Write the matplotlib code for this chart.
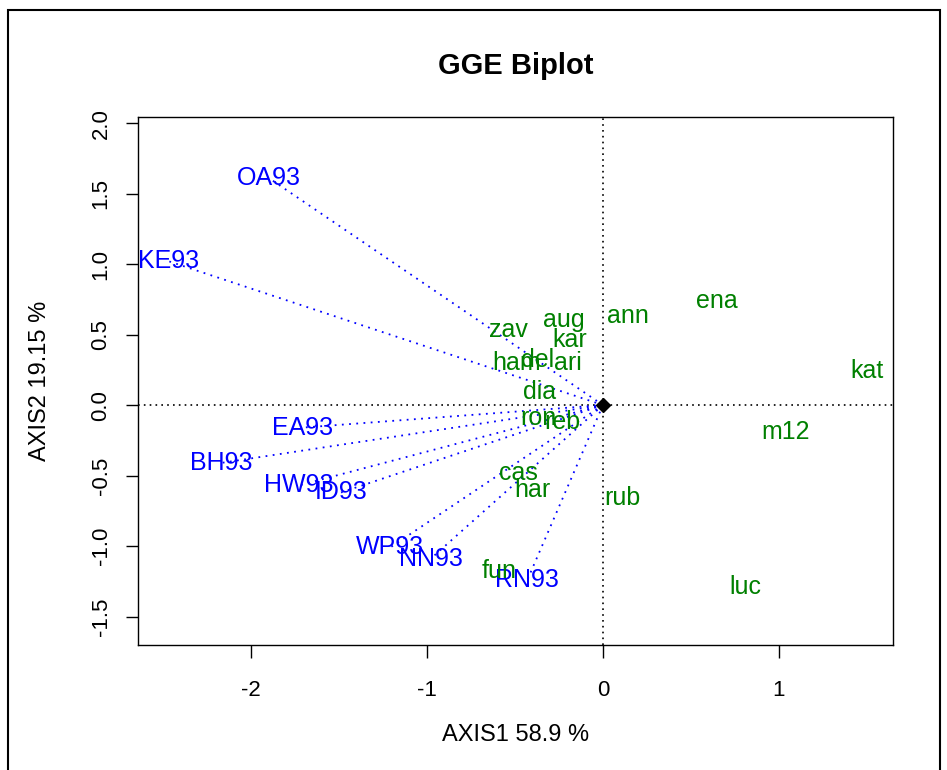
import matplotlib
matplotlib.use("Agg")
import matplotlib.pyplot as plt
from matplotlib.patches import Rectangle

plt.rcParams['font.family'] = ['Liberation Sans', 'DejaVu Sans']

# environments (blue vectors)
env_names = ["OA93", "KE93", "EA93", "BH93", "HW93", "ID93", "WP93", "NN93", "RN93"]
env_x = [-1.90, -2.47, -1.71, -2.17, -1.73, -1.49, -1.21, -0.98, -0.43]
env_y = [1.61, 1.02, -0.16, -0.41, -0.57, -0.62, -1.01, -1.09, -1.24]

# genotypes (green labels)
gen_names = ["ann", "ena", "aug", "zav", "kar", "ham", "del", "ari", "dia",
             "kat", "ron", "reb", "m12", "cas", "har", "rub", "fun", "luc"]
gen_x = [0.14, 0.65, -0.22, -0.54, -0.19, -0.49, -0.37, -0.20, -0.36,
         1.50, -0.37, -0.23, 1.04, -0.48, -0.40, 0.11, -0.59, 0.81]
gen_y = [0.63, 0.74, 0.60, 0.53, 0.46, 0.30, 0.32, 0.30, 0.09,
         0.24, -0.09, -0.12, -0.19, -0.48, -0.60, -0.66, -1.18, -1.29]

fig = plt.figure(figsize=(9.47, 7.7), dpi=100)
ax = fig.add_axes([0.1457, 0.1623, 0.7973, 0.6857])

# outer frame
fig.patches.append(Rectangle((8 / 947, -0.05), 932 / 947, 1.05 - 10 / 770,
                             transform=fig.transFigure, fill=False,
                             edgecolor="black", linewidth=1.5))

ax.axhline(0, color="black", linestyle=(0, (1, 2.5)), linewidth=1.2)
ax.axvline(0, color="black", linestyle=(0, (1, 2.5)), linewidth=1.2)

for x, y in zip(env_x, env_y):
    ax.plot([0, x], [0, y], color="blue", linestyle=(0, (1, 3)), linewidth=1.3)

for n, x, y in zip(env_names, env_x, env_y):
    ax.text(x, y, n, color="blue", fontsize=18, ha="center", va="center", clip_on=True)

for n, x, y in zip(gen_names, gen_x, gen_y):
    ax.text(x, y, n, color="green", fontsize=18, ha="center", va="center", clip_on=True)

ax.plot([0], [0], marker="D", color="black", markersize=7)

ax.set_xlim(-2.645, 1.65)
ax.set_ylim(-1.702, 2.043)
ax.set_xticks([-2, -1, 0, 1])
ax.set_xticklabels(["-2", "-1", "0", "1"])
ax.set_yticks([-1.5, -1.0, -0.5, 0.0, 0.5, 1.0, 1.5, 2.0])
ax.set_yticklabels(["-1.5", "-1.0", "-0.5", "0.0", "0.5", "1.0", "1.5", "2.0"],
                   rotation=90, va="center")
ax.tick_params(axis="both", length=9, width=1, labelsize=16)
ax.tick_params(axis="x", pad=16)
ax.tick_params(axis="y", pad=10)
for s in ax.spines.values():
    s.set_linewidth(1)

fig.text(0.5443, 0.914, "GGE Biplot", fontsize=21, fontweight="bold", ha="center", va="center")
fig.text(0.5443, 0.045, "AXIS1 58.9 %", fontsize=17, ha="center", va="center")
fig.text(0.042, 0.5053, "AXIS2 19.15 %", fontsize=17, ha="center", va="center", rotation=90)

fig.savefig("out.png", dpi=100)
